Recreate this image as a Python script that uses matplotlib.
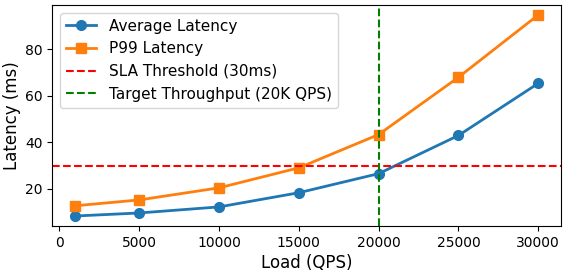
import matplotlib
matplotlib.use("Agg")
import matplotlib.pyplot as plt

load_qps = [1000, 5000, 10000, 15000, 20000, 25000, 30000]
avg_latency = [8.3, 9.6, 12.2, 18.3, 26.5, 42.9, 65.3]
p99_latency = [12.7, 15.2, 20.4, 29.0, 43.3, 67.9, 94.7]
sla_ms = 30
target_qps = 20000

fig, ax = plt.subplots(figsize=(5.67, 2.74), dpi=100)
ax.plot(load_qps, avg_latency, "o-", lw=2, ms=7, color="#1f77b4", label="Average Latency")
ax.plot(load_qps, p99_latency, "s-", lw=2, ms=7, color="#ff7f0e", label="P99 Latency")
ax.axhline(sla_ms, color="red", ls="--", lw=1.5, label="SLA Threshold (30ms)")
ax.axvline(target_qps, color="green", ls="--", lw=1.5, label="Target Throughput (20K QPS)")
ax.set_xlabel("Load (QPS)", fontsize=12, labelpad=3)
ax.set_ylabel("Latency (ms)", fontsize=12, labelpad=3)
ax.tick_params(labelsize=10)
ax.legend(loc="upper left", fontsize=11)
fig.subplots_adjust(left=0.092, right=0.99, top=0.982, bottom=0.175)
fig.savefig("out.png")
